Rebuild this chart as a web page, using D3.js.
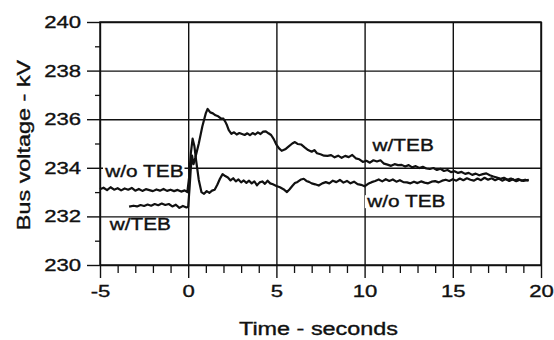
<!DOCTYPE html>
<html>
<head>
<meta charset="utf-8">
<script src="https://cdn.jsdelivr.net/npm/d3@7"></script>
<style>
  body { margin: 0; background: #fff; }
  text { font-family: "Liberation Sans", Arial, sans-serif; fill: #111; stroke: #111; stroke-width: 0.35px; }
</style>
</head>
<body>
<div id="chart"></div>
<script>
var width = 554;
var height = 340;

// w/o TEB trace (time in s, voltage in kV)
var noTebTime = [-5, -4.8, -4.6, -4.4, -4.2, -4.0, -3.8, -3.6, -3.4, -3.2, -3.0, -2.8, -2.6, -2.4, -2.2, -2.0, -1.8, -1.6, -1.4, -1.2, -1.0, -0.8, -0.6, -0.4, -0.2, -0.05,
  0.05, 0.15, 0.25, 0.35, 0.45, 0.6, 0.75, 0.9, 1.05, 1.2, 1.35, 1.5, 1.65, 1.8, 1.95, 2.1, 2.25, 2.4, 2.55, 2.7, 2.85, 3.0, 3.15, 3.3, 3.45, 3.6, 3.75, 3.9, 4.05, 4.2, 4.35, 4.5, 4.65, 4.8,
  5.0, 5.2, 5.4, 5.6, 5.75, 5.9, 6.05, 6.2, 6.4, 6.55, 6.7, 6.85, 7.0, 7.2, 7.4, 7.6, 7.8, 8.0, 8.2, 8.4, 8.6, 8.8, 9.0, 9.2, 9.4, 9.6, 9.8,
  10.0, 10.2, 10.4, 10.6, 10.8, 11.0, 11.2, 11.4, 11.6, 11.8, 12.0, 12.2, 12.4, 12.6, 12.8, 13.0, 13.2, 13.4, 13.6, 13.8, 14.0, 14.2, 14.4, 14.6, 14.8,
  15.0, 15.2, 15.4, 15.6, 15.8, 16.0, 16.2, 16.4, 16.6, 16.8, 17.0, 17.2, 17.4, 17.6, 17.8, 18.0, 18.2, 18.4, 18.6, 18.8, 19.0, 19.3];
var noTebVolt = [233.12, 233.18, 233.08, 233.2, 233.1, 233.16, 233.07, 233.15, 233.1, 233.17, 233.06, 233.13, 233.05, 233.12, 233.08, 233.04, 233.11, 233.06, 233.13, 233.05, 233.1, 233.04, 233.09, 233.02, 233.07, 233.0,
  233.6, 234.6, 235.2, 234.9, 234.3, 233.5, 233.0, 232.93, 233.04, 232.97, 233.06, 233.1, 233.3, 233.55, 233.74, 233.66, 233.6, 233.48, 233.57, 233.44, 233.52, 233.4, 233.48, 233.38, 233.47, 233.36, 233.44, 233.28, 233.4, 233.44, 233.34, 233.47, 233.36, 233.32,
  233.25, 233.2, 233.12, 233.0, 233.12, 233.25, 233.37, 233.42, 233.52, 233.55, 233.46, 233.42, 233.36, 233.32, 233.27, 233.36, 233.41, 233.36, 233.47, 233.41, 233.5, 233.39, 233.46, 233.36, 233.43, 233.33, 233.3,
  233.24, 233.34, 233.41, 233.46, 233.52, 233.44, 233.53, 233.46, 233.52, 233.43, 233.49, 233.41, 233.4, 233.36, 233.43, 233.37, 233.44, 233.39, 233.36, 233.43, 233.45, 233.4, 233.47, 233.51, 233.46,
  233.53, 233.47, 233.56, 233.49, 233.57, 233.51, 233.47, 233.56, 233.49, 233.59, 233.51, 233.57, 233.49, 233.56, 233.47, 233.54, 233.46, 233.53, 233.45, 233.51, 233.46, 233.5];

// w/TEB trace
var tebTime = [-3.35, -3.1, -2.9, -2.7, -2.5, -2.3, -2.1, -1.9, -1.7, -1.5, -1.3, -1.1, -0.9, -0.7, -0.5, -0.3, -0.1, 0.0,
  0.08, 0.15, 0.22, 0.3, 0.4, 0.6, 0.8, 1.0, 1.1, 1.25, 1.4, 1.55, 1.7, 1.85, 2.0, 2.1, 2.2, 2.3, 2.45, 2.6, 2.75, 2.9, 3.05, 3.2, 3.35, 3.5, 3.65, 3.8, 3.95, 4.1, 4.25, 4.4, 4.55, 4.7, 4.85,
  5.0, 5.15, 5.3, 5.5, 5.7, 5.9, 6.05, 6.2, 6.4, 6.6, 6.8, 7.0, 7.15, 7.3, 7.5, 7.7, 7.9, 8.1, 8.3, 8.5, 8.7, 8.9, 9.1, 9.3, 9.5, 9.7, 9.9,
  10.1, 10.3, 10.5, 10.7, 10.9, 11.1, 11.3, 11.5, 11.7, 11.9, 12.1, 12.3, 12.5, 12.7, 12.9, 13.1, 13.3, 13.5, 13.7, 13.9, 14.1, 14.3, 14.5, 14.7, 14.9,
  15.1, 15.3, 15.5, 15.7, 15.9, 16.1, 16.3, 16.5, 16.7, 16.9, 17.1, 17.3, 17.5, 17.7, 17.9, 18.1, 18.3, 18.5, 18.7, 18.9, 19.1, 19.3];
var tebVolt = [232.4, 232.44, 232.41, 232.47, 232.43, 232.49, 232.44, 232.51, 232.46, 232.53, 232.47, 232.51, 232.41, 232.48, 232.35, 232.43, 232.37, 232.4,
  233.2, 234.0, 234.5, 234.15, 234.4, 235.0, 235.7, 236.25, 236.42, 236.28, 236.24, 236.16, 236.12, 236.03, 236.02, 235.9, 235.75, 235.55, 235.4, 235.46, 235.37, 235.43, 235.39, 235.35, 235.42, 235.34, 235.43, 235.37, 235.46, 235.39, 235.49, 235.5, 235.42, 235.35, 235.18,
  234.95, 234.8, 234.7, 234.76, 234.88, 235.0, 235.06, 234.98, 234.96, 234.84, 234.73, 234.66, 234.73, 234.6, 234.56, 234.5, 234.49, 234.52, 234.43, 234.5, 234.41, 234.49, 234.44, 234.53, 234.39, 234.35, 234.24,
  234.29, 234.21, 234.31, 234.26, 234.31, 234.17, 234.13, 234.08, 234.15, 234.11, 234.12, 234.05, 234.11, 234.02, 234.07, 233.99, 234.04, 233.97, 233.95, 233.99, 233.91, 233.96, 233.87, 233.91, 233.82,
  233.86, 233.79, 233.83, 233.75, 233.79, 233.71, 233.76, 233.69, 233.74, 233.77, 233.69, 233.64, 233.6, 233.55, 233.59, 233.51, 233.56, 233.49, 233.54, 233.47, 233.51, 233.47];

var xMajor = [-5, 0, 5, 10, 15, 20];
var xMinor = [-4, -3, -2, -1, 1, 2, 3, 4, 6, 7, 8, 9, 11, 12, 13, 14, 16, 17, 18, 19];
var yMajor = [230, 232, 234, 236, 238, 240];
var yMinor = [231, 233, 235, 237, 239];

// annotation labels: text, time and voltage of the baseline start
var labelText = ["w/o TEB", "w/TEB", "w/TEB", "w/o TEB"];
var labelTime = [-4.7, -4.45, 10.45, 10.15];
var labelVolt = [233.62, 231.44, 234.68, 232.38];

var plotLeft = 100, plotRight = 541, plotTop = 22, plotBottom = 265;
var stretch = 1.3;

var svg = d3.select("#chart").append("svg")
    .attr("width", width)
    .attr("height", height);

var xScale = d3.scaleLinear().domain([-5, 20]).range([plotLeft, plotRight]);
var yScale = d3.scaleLinear().domain([230, 240]).range([plotBottom, plotTop]);

function widen(sel) {
    sel.each(function() {
        var w = this.getComputedTextLength();
        d3.select(this).attr("textLength", w * stretch).attr("lengthAdjust", "spacingAndGlyphs");
    });
}

// grid
svg.append("g")
    .attr("transform", "translate(0," + plotBottom + ")")
    .call(d3.axisBottom(xScale).tickValues(xMajor).tickSize(-(plotBottom - plotTop)).tickFormat(""))
    .call(function(g) { g.select(".domain").remove(); })
    .selectAll("line").attr("stroke", "#111").attr("stroke-width", 1.4);

svg.append("g")
    .attr("transform", "translate(" + plotLeft + ",0)")
    .call(d3.axisLeft(yScale).tickValues(yMajor).tickSize(-(plotRight - plotLeft)).tickFormat(""))
    .call(function(g) { g.select(".domain").remove(); })
    .selectAll("line").attr("stroke", "#111").attr("stroke-width", 1.4);

// minor ticks
svg.append("g")
    .attr("transform", "translate(0," + plotBottom + ")")
    .call(d3.axisBottom(xScale).tickValues(xMinor).tickSize(8).tickFormat(""))
    .call(function(g) { g.select(".domain").remove(); })
    .selectAll("line").attr("stroke", "#111").attr("stroke-width", 1.3);

svg.append("g")
    .attr("transform", "translate(" + plotLeft + ",0)")
    .call(d3.axisLeft(yScale).tickValues(yMinor).tickSize(5).tickFormat(""))
    .call(function(g) { g.select(".domain").remove(); })
    .selectAll("line").attr("stroke", "#111").attr("stroke-width", 1.3);

// major axes with labels
var xAxisG = svg.append("g")
    .attr("transform", "translate(0," + plotBottom + ")")
    .call(d3.axisBottom(xScale).tickValues(xMajor).tickSize(13).tickPadding(7).tickFormat(d3.format("d")));
xAxisG.select(".domain").remove();
xAxisG.selectAll("line").attr("stroke", "#111").attr("stroke-width", 1.4);
xAxisG.selectAll("text")
    .attr("font-size", 17)
    .style("font-family", "'Liberation Sans', Arial, sans-serif")
    .attr("fill", "#111")
    .text(function(d) { return d < 0 ? "-" + Math.abs(d) : d; })
    .call(widen);

var yAxisG = svg.append("g")
    .attr("transform", "translate(" + plotLeft + ",0)")
    .call(d3.axisLeft(yScale).tickValues(yMajor).tickSize(13).tickPadding(6));
yAxisG.select(".domain").remove();
yAxisG.selectAll("line").attr("stroke", "#111").attr("stroke-width", 1.4);
yAxisG.selectAll("text")
    .attr("font-size", 17)
    .style("font-family", "'Liberation Sans', Arial, sans-serif")
    .attr("fill", "#111")
    .call(widen);

// frame
svg.append("rect")
    .attr("x", plotLeft).attr("y", plotTop)
    .attr("width", plotRight - plotLeft).attr("height", plotBottom - plotTop)
    .attr("fill", "none").attr("stroke", "#111").attr("stroke-width", 1.5);

// annotation labels with white backing
var labels = svg.append("g");
labelText.forEach(function(t, i) {
    var g = labels.append("g");
    var txt = g.append("text")
        .attr("x", xScale(labelTime[i]))
        .attr("y", yScale(labelVolt[i]))
        .attr("font-size", 16)
        .text(t)
        .call(widen);
    var b = txt.node().getBBox();
    g.insert("rect", "text")
        .attr("x", b.x - 1).attr("y", b.y + 2)
        .attr("width", b.width + 2).attr("height", b.height - 4)
        .attr("fill", "#fff");
});

// traces
var line = d3.line()
    .x(function(d) { return xScale(d[0]); })
    .y(function(d) { return yScale(d[1]); });

svg.append("path")
    .datum(d3.zip(noTebTime, noTebVolt))
    .attr("fill", "none").attr("stroke", "#111").attr("stroke-width", 2.2)
    .attr("stroke-linejoin", "round")
    .attr("d", line);

svg.append("path")
    .datum(d3.zip(tebTime, tebVolt))
    .attr("fill", "none").attr("stroke", "#111").attr("stroke-width", 2.2)
    .attr("stroke-linejoin", "round")
    .attr("d", line);

// axis titles
svg.append("text")
    .attr("x", (plotLeft + plotRight) / 2 - 2)
    .attr("y", 335)
    .attr("text-anchor", "middle")
    .attr("font-size", 18)
    .text("Time - seconds")
    .call(widen);

svg.append("text")
    .attr("transform", "translate(30," + 145 + ") rotate(-90)")
    .attr("text-anchor", "middle")
    .attr("font-size", 18)
    .text("Bus voltage - kV")
    .call(widen);
</script>
</body>
</html>
